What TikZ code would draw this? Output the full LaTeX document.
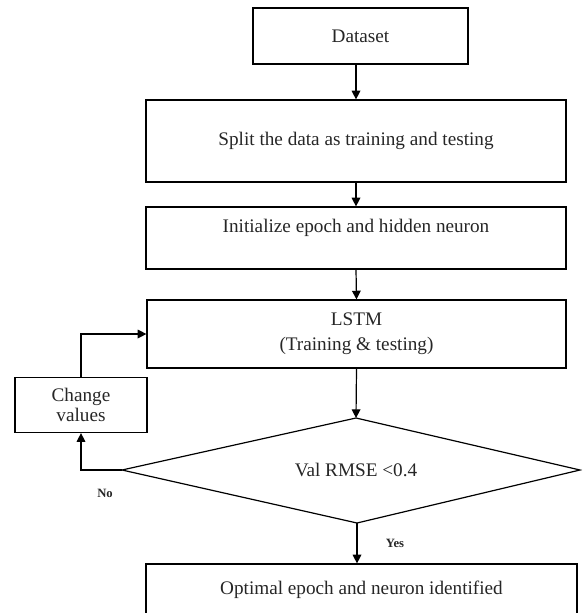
\documentclass[tikz,border=0pt]{standalone}
\usepackage{fontspec}
\setmainfont{Liberation Serif}
\usetikzlibrary{arrows.meta}
\begin{document}
\begin{tikzpicture}[x=0.75pt,y=-0.75pt,
  every node/.style={font=\fontsize{14.4}{18.75}\selectfont,text=black!85},
  box/.style={draw,line width=0.9pt,inner sep=0pt,align=center},
  arr/.style={draw,line width=0.9pt,-{Triangle[length=6.5pt,width=6.5pt]}},
  lbl/.style={font=\fontsize{9.5}{11}\selectfont\bfseries,inner sep=0pt},
  ln/.style={draw,line width=0.9pt}]
\useasboundingbox (0,0) rectangle (582,613);
\clip (0,0) rectangle (582,613);
\node[box,minimum width=161.25pt,minimum height=42pt] (data) at (360.5,36) {Dataset};
\node[box,minimum width=315pt,minimum height=61.5pt] (split) at (356,141) {Split the data as training and testing};
\node[box,minimum width=315pt,minimum height=46.5pt] (init) at (356,238) {Initialize epoch and hidden neuron\\\mbox{}};
\node[box,minimum width=314.25pt,minimum height=51pt] (lstm) at (356.5,334) {LSTM\\(Training \& testing)};
\node[box,minimum width=99pt,minimum height=41.25pt,font=\fontsize{14.4}{15.5}\selectfont] (cv) at (81,405) {Change\\values};
\coordinate (dtop) at (356,418);
\coordinate (dleft) at (122,470);
\coordinate (dright) at (580,470);
\coordinate (dbot) at (357,523);
\draw[line width=0.9pt] (dtop) -- (dright) -- (dbot) -- (dleft) -- cycle;
\node (dtext) at (356,470) {Val RMSE <0.4};
\node[box,minimum width=323.25pt,minimum height=39pt] (opt) at (361.5,590) {Optimal epoch and neuron identified};
\draw[arr] (data.south -| split.north) -- (split.north);
\draw[arr] (split.south) -- (init.north);
\draw[arr] (init.south) -- (lstm.north);
\draw[arr] (lstm.south) -- (dtop);
\draw[arr] (dbot) -- (dbot |- opt.north);
\draw[arr] (dleft) -| (cv.south);
\draw[arr] (cv.north) |- (lstm.west);
\node[lbl] (no) at (105,493) {No};
\node[lbl] (yes) at (395,543) {Yes};
\end{tikzpicture}
\end{document}
